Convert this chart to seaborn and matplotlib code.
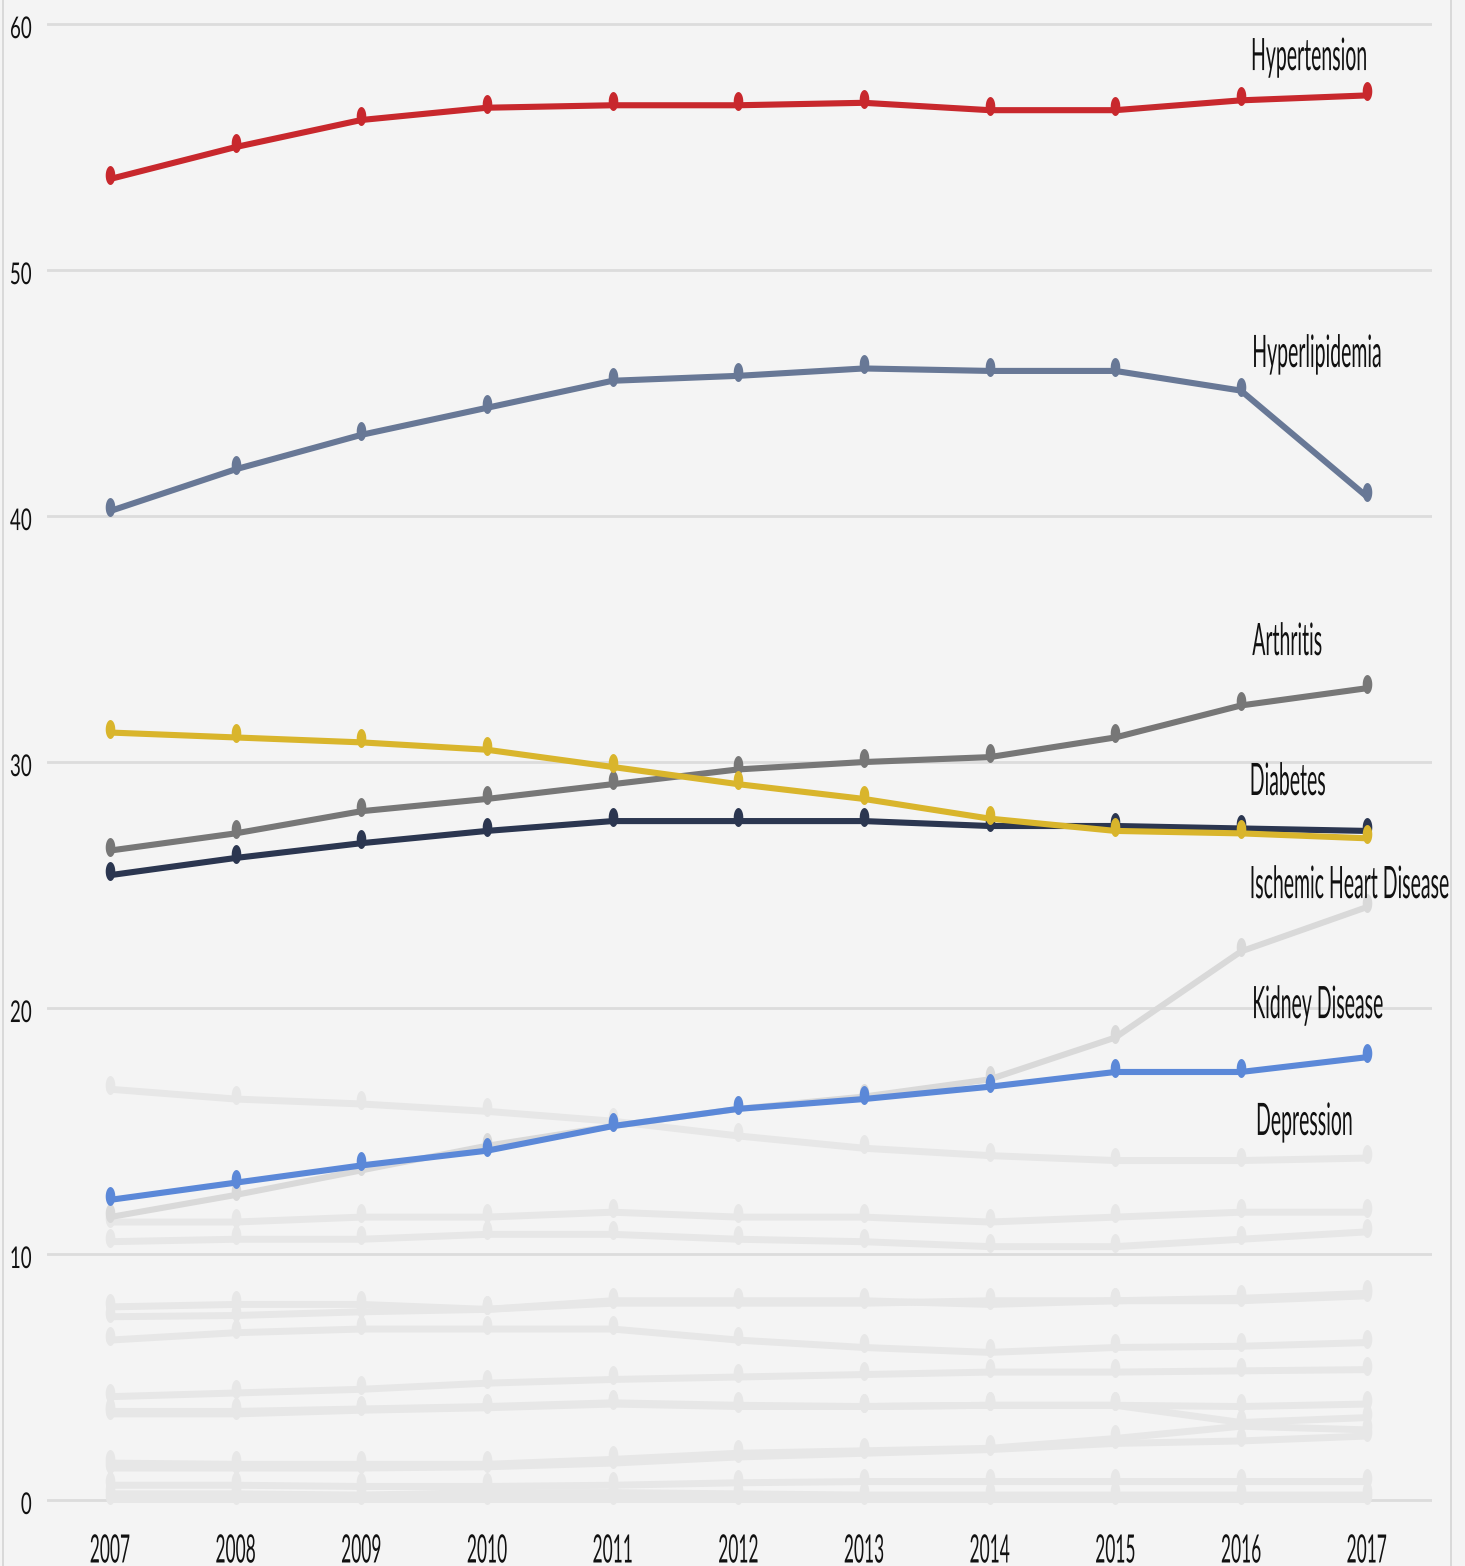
import numpy as np
import pandas as pd
import matplotlib
matplotlib.use("Agg")
import matplotlib.pyplot as plt
import seaborn as sns
from matplotlib.patheffects import AbstractPathEffect
from matplotlib.transforms import Affine2D
from matplotlib.path import Path
from matplotlib.lines import Line2D

# ---------------- data ----------------
years = [2007, 2008, 2009, 2010, 2011, 2012, 2013, 2014, 2015, 2016, 2017]

hypertension = [53.7, 55.0, 56.1, 56.6, 56.7, 56.7, 56.8, 56.5, 56.5, 56.9, 57.1]
hyperlipidemia = [40.2, 41.9, 43.3, 44.4, 45.5, 45.7, 46.0, 45.9, 45.9, 45.1, 40.8]
arthritis = [26.4, 27.1, 28.0, 28.5, 29.1, 29.7, 30.0, 30.2, 31.0, 32.3, 33.0]
diabetes = [31.2, 31.0, 30.8, 30.5, 29.8, 29.1, 28.5, 27.7, 27.2, 27.1, 26.9]
ischemic = [25.4, 26.1, 26.7, 27.2, 27.6, 27.6, 27.6, 27.4, 27.4, 27.3, 27.2]
kidney = [11.5, 12.4, 13.4, 14.4, 15.2, 15.9, 16.4, 17.1, 18.8, 22.3, 24.1]
depression = [12.2, 12.9, 13.6, 14.2, 15.2, 15.9, 16.3, 16.8, 17.4, 17.4, 18.0]

other_a = [16.7, 16.3, 16.1, 15.8, 15.4, 14.8, 14.3, 14.0, 13.8, 13.8, 13.9]
other_b = [11.3, 11.3, 11.5, 11.5, 11.7, 11.5, 11.5, 11.3, 11.5, 11.7, 11.7]
other_c = [10.5, 10.6, 10.6, 10.8, 10.8, 10.6, 10.5, 10.3, 10.3, 10.6, 10.9]
other_d = [7.85, 7.95, 7.95, 7.75, 8.1, 8.1, 8.1, 7.95, 8.1, 8.2, 8.4]
other_e = [7.45, 7.5, 7.65, 7.75, 8.0, 8.0, 8.0, 8.1, 8.1, 8.1, 8.3]
other_f = [6.5, 6.8, 6.95, 6.95, 6.95, 6.5, 6.2, 6.0, 6.2, 6.25, 6.4]
other_g = [4.2, 4.35, 4.5, 4.75, 4.9, 5.0, 5.1, 5.2, 5.2, 5.25, 5.3]
other_h1 = [3.6, 3.6, 3.7, 3.8, 3.95, 3.85, 3.8, 3.85, 3.85, 3.8, 3.9]
other_h2 = [3.5, 3.5, 3.65, 3.75, 3.9, 3.8, 3.8, 3.85, 3.85, 3.15, 3.35]
other_i1 = [1.5, 1.45, 1.45, 1.45, 1.65, 1.9, 2.0, 2.1, 2.5, 3.0, 2.85]
other_i2 = [1.3, 1.3, 1.3, 1.35, 1.5, 1.75, 1.9, 2.05, 2.3, 2.4, 2.6]
other_j = [0.6, 0.6, 0.55, 0.55, 0.6, 0.7, 0.75, 0.75, 0.75, 0.75, 0.75]
other_k = [0.25, 0.25, 0.2, 0.3, 0.3, 0.25, 0.2, 0.2, 0.2, 0.2, 0.2]
other_l = [0.05, 0.05, 0.05, 0.05, 0.05, 0.05, 0.05, 0.05, 0.05, 0.05, 0.05]

faint_series = [other_a, other_b, other_c, other_d, other_e, other_f, other_g,
                other_h1, other_h2, other_i1, other_i2, other_j, other_k, other_l]

highlight_names = ["Hypertension", "Hyperlipidemia", "Arthritis",
                   "Ischemic Heart Disease", "Diabetes", "Depression"]
highlight_values = [hypertension, hyperlipidemia, arthritis, ischemic, diabetes, depression]
highlight_colors = ["#c8282d", "#687896", "#777777", "#2b3650", "#d9b52c", "#5b88d8"]

label_names = ["Hypertension", "Hyperlipidemia", "Arthritis", "Diabetes",
               "Ischemic Heart Disease", "Kidney Disease", "Depression"]
label_x = [2016.08, 2016.09, 2016.09, 2016.07, 2016.07, 2016.09, 2016.12]
label_y = [58.13, 46.06, 34.35, 28.66, 24.47, 19.59, 14.84]

y_ticks = [0, 10, 20, 30, 40, 50, 60]

BG = "#f4f4f4"
FAINT = "#e7e7e7"
KIDNEY_C = "#d9d9d9"
TEXT_C = "#111111"


# --------------- helpers ---------------
class Stretch(AbstractPathEffect):
    """Draw text stretched vertically about its baseline (narrow tall look)."""
    def __init__(self, sx=1.0, sy=2.0, dy=0.0):
        super().__init__()
        self.sx, self.sy, self.dy = sx, sy, dy

    def draw_path(self, renderer, gc, tpath, affine, rgbFace=None):
        tr = Affine2D().scale(self.sx, self.sy) + affine + Affine2D().translate(0, self.dy)
        renderer.draw_path(gc, tpath, tr, rgbFace)


# pin-like marker: vertical ellipse sitting slightly above the point
t = np.linspace(0, 2 * np.pi, 40)
verts = np.column_stack([4.8 * np.cos(t), 4.0 + 9.5 * np.sin(t)])
pin = Path(verts, closed=True)

# --------------- figure ---------------
sns.set_theme(style="white")
plt.rcParams["font.family"] = ["Lato", "DejaVu Sans"]

W, H = 1465, 1566
fig = plt.figure(figsize=(W / 100, H / 100), dpi=100, facecolor=BG)
ax = fig.add_axes([47 / W, 54 / H, 1385 / W, 1498 / H])
ax.set_facecolor(BG)

lw = 4.4
msize = 19.4

for vals in faint_series:
    sns.lineplot(x=years, y=vals, color=FAINT, ax=ax, lw=5.0, marker=pin,
                 markersize=msize, markeredgewidth=0, solid_joinstyle="round",
                 solid_capstyle="round", legend=False, zorder=2)

sns.lineplot(x=years, y=kidney, color=KIDNEY_C, ax=ax, lw=lw, marker=pin,
             markersize=msize, markeredgewidth=0, solid_joinstyle="round",
             solid_capstyle="round", legend=False, zorder=3)

for vals, c in zip(highlight_values, highlight_colors):
    sns.lineplot(x=years, y=vals, color=c, ax=ax, lw=lw, marker=pin,
                 markersize=msize, markeredgewidth=0, solid_joinstyle="round",
                 solid_capstyle="round", legend=False, zorder=4)

ax.set_xlim(2006.5, 2017.52)
ax.set_ylim(-0.488, 60.41)
ax.set_yticks(y_ticks)
ax.set_xticks(years)
ax.set_xticklabels([str(y) for y in years])
ax.set_yticklabels([str(v) for v in y_ticks])
ax.set_xlabel("")
ax.set_ylabel("")
ax.yaxis.grid(True, color="#dcdcdc", lw=2.0)
ax.xaxis.grid(False)
ax.set_axisbelow(True)
for s in ax.spines.values():
    s.set_visible(False)
ax.tick_params(axis="both", length=0, colors=TEXT_C)
ax.tick_params(axis="y", pad=11, labelsize=13.5)
ax.tick_params(axis="x", pad=27, labelsize=12.5)

for lbl in ax.get_yticklabels():
    lbl.set_path_effects([Stretch(1.0, 1.6, dy=-7)])
for lbl in ax.get_xticklabels():
    lbl.set_path_effects([Stretch(1.0, 2.25, dy=0)])

for name, x, y in zip(label_names, label_x, label_y):
    ax.text(x, y, name, ha="left", va="baseline", fontsize=14.0, color=TEXT_C,
            path_effects=[Stretch(1.0, 2.3)], zorder=6)

# thin frame lines at left and right of the figure
fig.add_artist(Line2D([3 / W, 3 / W], [0, 1], transform=fig.transFigure,
                      color="#d4d4d4", lw=1.2))
fig.add_artist(Line2D([1451 / W, 1451 / W], [0, 1], transform=fig.transFigure,
                      color="#d4d4d4", lw=1.2))

fig.savefig("out.png", dpi=100, facecolor=BG)
